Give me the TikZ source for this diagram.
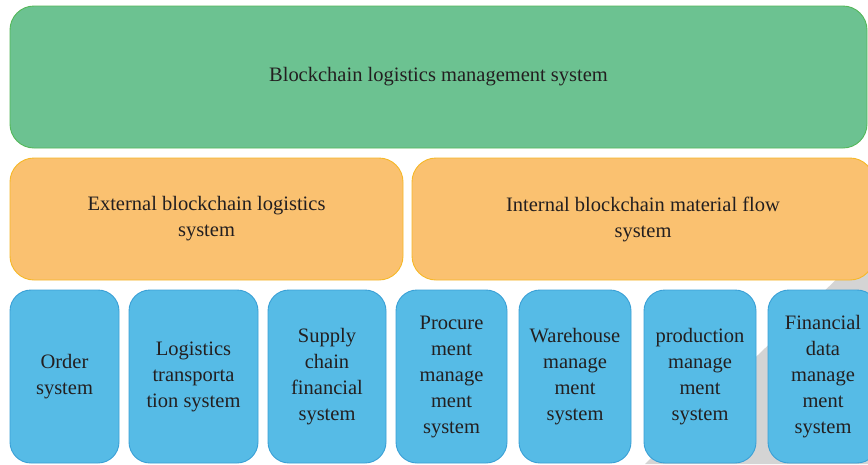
\documentclass[tikz,border=0pt]{standalone}
\usepackage{fontspec}
\setmainfont{Liberation Serif}
\usetikzlibrary{positioning}
\definecolor{topgreen}{RGB}{108,194,145}
\definecolor{topgreenline}{RGB}{84,184,90}
\definecolor{midorange}{RGB}{250,193,112}
\definecolor{midorangeline}{RGB}{246,184,40}
\definecolor{lowblue}{RGB}{86,187,230}
\definecolor{lowblueline}{RGB}{58,160,214}
\definecolor{txtgray}{RGB}{35,31,32}
\definecolor{shadowgray}{RGB}{212,212,212}
\tikzset{sysbox/.style={draw, rounded corners=24pt, line width=0.9pt, align=center, inner sep=0pt, text=txtgray, font=\fontsize{20.5}{26}\selectfont}}
\tikzset{topsys/.style={sysbox, fill=topgreen, draw=topgreenline}}
\tikzset{midsys/.style={sysbox, fill=midorange, draw=midorangeline}}
\tikzset{lowsys/.style={sysbox, fill=lowblue, draw=lowblueline, rounded corners=21pt, minimum height=173pt}}
\begin{document}
\begin{tikzpicture}[x=1pt, y=-1pt]
  \clip (0,0) rectangle (868,464);
  \fill[white] (0,0) rectangle (868,464);
  % grey shadow behind the right-hand boxes
  \fill[shadowgray] (872,245) -- (872,464) -- (645,464) -- cycle;
  \node[topsys, minimum width=857pt, minimum height=142pt] (bls) at (438.5,77) {Blockchain logistics management system};
  \node[midsys, minimum width=393pt, minimum height=122pt] (ext) at (206.5,219) {External blockchain logistics\\system};
  \node[midsys, minimum width=462pt, minimum height=122pt] (int) at (643,219) {Internal blockchain material flow\\system};
  \node[lowsys, minimum width=109pt] (ord) at (64.5,376.5) {Order\\system};
  \node[lowsys, minimum width=129pt] (trn) at (193.5,376.5) {Logistics\\transporta\\tion system};
  \node[lowsys, minimum width=118pt] (fin) at (327,376.5) {Supply\\chain\\financial\\system};
  \node[lowsys, minimum width=111pt] (prc) at (451.5,376.5) {Procure\\ment\\manage\\ment\\system};
  \node[lowsys, minimum width=112pt] (war) at (575,376.5) {Warehouse\\manage\\ment\\system};
  \node[lowsys, minimum width=112pt] (prd) at (700,376.5) {production\\manage\\ment\\system};
  \node[lowsys, minimum width=110pt] (fdm) at (823,376.5) {Financial\\data\\manage\\ment\\system};
\end{tikzpicture}
\end{document}
